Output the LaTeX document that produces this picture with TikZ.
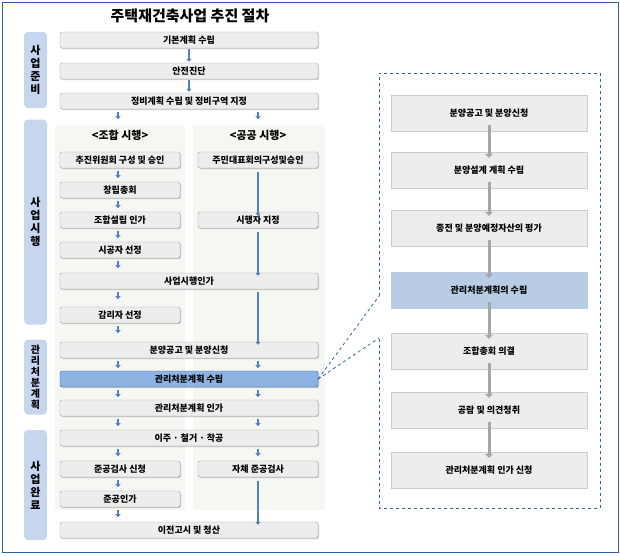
\documentclass[tikz,border=0pt]{standalone}
\usepackage{fontspec}
\setmainfont{Noto Sans CJK KR}
\usetikzlibrary{arrows.meta,shadows}
\definecolor{frameblue}{HTML}{2F5FB3}
\definecolor{stagebg}{HTML}{C6D6EE}
\definecolor{boxgray}{HTML}{EDEDED}
\definecolor{hiblue}{HTML}{8DB3E2}
\definecolor{panelhi}{HTML}{B8CCE4}
\definecolor{colbg}{HTML}{F5F7F2}
\tikzset{
  stagebar/.style={fill=stagebg, rounded corners=4pt, minimum width=23pt, align=center, font=\bfseries\fontsize{11}{13}\selectfont, inner sep=0pt},
  stepbox/.style={draw=gray!70, fill=boxgray, rounded corners=2pt, minimum height=16pt, font=\bfseries\fontsize{9}{10}\selectfont, inner sep=0pt, drop shadow={shadow xshift=1pt, shadow yshift=-1pt, opacity=0.4}},
  widebox/.style={stepbox, minimum width=258pt},
  halfbox/.style={stepbox, minimum width=120pt},
  hibox/.style={widebox, fill=hiblue, draw=frameblue},
  panelbox/.style={draw=gray!40, fill=boxgray, minimum width=196pt, minimum height=36pt, font=\bfseries\fontsize{9}{10}\selectfont},
  flow/.style={-{Triangle[length=3pt,width=5pt]}, line width=2pt, frameblue!80},
  grayflow/.style={-{Triangle[length=4pt,width=8pt]}, line width=3pt, gray!70},
}
\begin{document}
\begin{tikzpicture}[x=1pt,y=-1pt]
    \useasboundingbox (0,0) rectangle (620,555);
    % outer frame
    \draw[frameblue, line width=1pt] (2,2) rectangle (618,552);
    \node[font=\bfseries\fontsize{15}{17}\selectfont] (title) at (190,16) {주택재건축사업 추진 절차};

    % column backgrounds
    \fill[colbg] (55,125) rectangle (185,510);
    \fill[colbg] (193,125) rectangle (325,510);

    % stage bars
    \node[stagebar, minimum height=76pt] (s1) at (35.5,70) {사\\업\\준\\비};
    \node[stagebar, minimum height=205pt] (s2) at (35.5,222) {사\\업\\시\\행};
    \node[stagebar, minimum height=75pt, font=\bfseries\fontsize{10}{11}\selectfont] (s3) at (35.5,377) {관\\리\\처\\분\\계\\획};
    \node[stagebar, minimum height=110pt] (s4) at (35.5,485) {사\\업\\완\\료};

    % main steps
    \node[widebox] (basic) at (189,40) {기본계획 수립};
    \node[widebox] (safety) at (189,71) {안전진단};
    \node[widebox] (plan) at (189,101) {정비계획 수립 및 정비구역 지정};
    \node[font=\bfseries\fontsize{11}{13}\selectfont] (union) at (120,135) {<조합 시행>};
    \node[font=\bfseries\fontsize{11}{13}\selectfont] (public) at (258,135) {<공공 시행>};
    \node[halfbox] (promo) at (120,160) {추진위원회 구성 및 승인};
    \node[halfbox] (resid) at (258,160) {주민대표회의구성및승인};
    \node[halfbox] (found) at (120,190) {창립총회};
    \node[halfbox] (estab) at (120,220) {조합설립 인가};
    \node[halfbox] (operator) at (258,220) {시행자 지정};
    \node[halfbox] (builder) at (120,250) {시공자 선정};
    \node[widebox] (approve) at (189,281) {사업시행인가};
    \node[halfbox] (super) at (120,315) {감리자 선정};
    \node[widebox] (sale) at (189,350) {분양공고 및 분양신청};
    \node[hibox] (mgmt) at (189,379) {관리처분계획 수립};
    \node[widebox] (mgmtok) at (189,408) {관리처분계획 인가};
    \node[widebox] (move) at (189,438) {이주 · 철거 · 착공};
    \node[halfbox] (inspreq) at (120,469) {준공검사 신청};
    \node[halfbox] (selfinsp) at (258,469) {자체 준공검사};
    \node[halfbox] (done) at (120,499) {준공인가};
    \node[widebox] (transfer) at (189,530) {이전고시 및 청산};

    % arrows
    \draw[flow] ([yshift=-1pt]basic.south) -- ([yshift=1pt]safety.north);
    \draw[flow] ([yshift=-1pt]safety.south) -- ([yshift=1pt]plan.north);
    \foreach \a in {plan, promo, found, estab, builder, approve, super, sale, mgmt, mgmtok, move, inspreq, done}
      \draw[flow, line width=1.5pt] (\a.south -| 118,0) ++(0,3) -- ++(0,7);
    \foreach \a in {plan, sale, mgmt, mgmtok, move}
      \draw[flow, line width=1.5pt] (\a.south -| 258,0) ++(0,3) -- ++(0,7);
    \draw[flow] (resid.south) ++(0,4) -- ([yshift=-4pt]operator.north);
    \draw[flow] (operator.south) ++(0,4) -- ([yshift=-3pt]approve.north -| operator);
    \draw[flow] (approve.south -| operator) ++(0,3) -- ([yshift=-3pt]sale.north -| operator);
    \draw[flow] (selfinsp.south) ++(0,4) -- ([yshift=-3pt]transfer.north -| selfinsp);

    % detail panel
    \coordinate (pa) at (379,296);
    \coordinate (pb) at (379,338);
    \draw[frameblue, dashed, line width=0.8pt] (pa) -- (379,73) -- (600,73) -- (600,508) -- (379,508) -- (pb);
    \draw[frameblue, dashed, line width=0.8pt] (mgmt.east) -- (pa);
    \draw[frameblue, dashed, line width=0.8pt] (mgmt.east) -- (pb);
    \node[panelbox] (p1) at (489,113) {분양공고 및 분양신청};
    \node[panelbox] (p2) at (489,170) {분양설계 계획 수립};
    \node[panelbox] (p3) at (489,228) {종전 및 분양예정자산의 평가};
    \node[panelbox, fill=panelhi, draw=panelhi] (p4) at (489,290) {관리처분계획의 수립};
    \node[panelbox] (p5) at (489,351) {조합총회 의결};
    \node[panelbox] (p6) at (489,410) {공람 및 의견청취};
    \node[panelbox] (p7) at (489,470) {관리처분계획 인가 신청};
    \foreach \a/\b in {p1/p2, p2/p3, p3/p4, p4/p5, p5/p6, p6/p7}
      \draw[grayflow] ([yshift=6pt]\a.south) -- ([yshift=-6pt]\b.north);
\end{tikzpicture}
\end{document}
